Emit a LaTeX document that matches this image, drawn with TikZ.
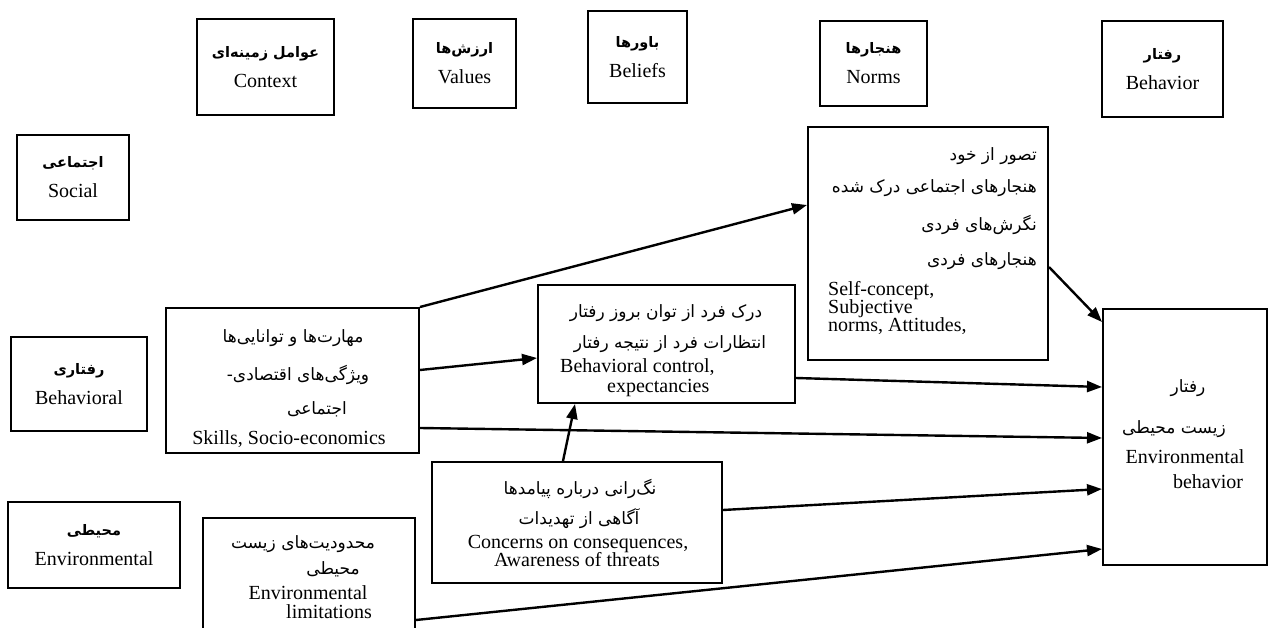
\documentclass[tikz,border=0pt]{standalone}
\usepackage{fontspec}
\setmainfont{Liberation Serif}
\newfontfamily\fa[Script=Arabic]{DejaVu Sans}
\usetikzlibrary{positioning,arrows.meta}
\TeXXeTstate=1
\newcommand{\fahead}[1]{{\fa\bfseries\fontsize{14.5}{30}\selectfont\beginR #1\endR}}
\newcommand{\fatext}[1]{{\fa\fontsize{17}{20}\selectfont\beginR #1\endR}}

\begin{document}
\begin{tikzpicture}[x=1pt,y=-1pt,
  box/.style={draw, line width=2pt, inner sep=0pt},
  head/.style={align=center, font=\fontsize{20}{30}\selectfont},
  txt/.style={inner sep=0pt, font=\fontsize{20}{20}\selectfont},
  link/.style={line width=2.4pt, -{Triangle[length=15pt,width=11pt]}}]
\useasboundingbox (0,0) rectangle (1270,628);
\clip (0,0) rectangle (1270,628);
% top row
\node[box, head, minimum width=137, minimum height=96] (context) at (265.5,67) {\fahead{عوامل زمینه^^^^200cای}\\Context};
\node[box, head, minimum width=103, minimum height=89] (values) at (464.5,63.5) {\fahead{ارزش^^^^200cها}\\Values};
\node[box, head, minimum width=99, minimum height=92] (beliefs) at (637.5,57) {\fahead{باورها}\\Beliefs};
\node[box, head, minimum width=107, minimum height=85] (norms) at (873.5,63.5) {\fahead{هنجارها}\\Norms};
\node[box, head, minimum width=121, minimum height=96] (behavior) at (1162.5,69) {\fahead{رفتار}\\Behavior};
% left column
\node[box, head, minimum width=112, minimum height=85] (social) at (73,177.5) {\fahead{اجتماعی}\\Social};
\node[box, head, minimum width=136, minimum height=94] (behavioral) at (79,384) {\fahead{رفتاری}\\Behavioral};
\node[box, head, minimum width=172, minimum height=86] (environmental) at (94,545) {\fahead{محیطی}\\Environmental};
% factor boxes
\node[box, minimum width=253, minimum height=145] (skills) at (292.5,380.5) {};
\node[box, minimum width=257, minimum height=118] (control) at (666.5,344) {};
\node[box, minimum width=240, minimum height=233] (selfbox) at (928,243.5) {};
\node[box, minimum width=290, minimum height=121] (concerns) at (577,522.5) {};
\node[box, minimum width=212, minimum height=142] (limits) at (309,589) {};
\node[box, minimum width=164, minimum height=256] (envbeh) at (1185,437) {};
% texts
\node[txt, anchor=base] (skillsA) at (293,343) {\fatext{مهارت^^^^200cها و توانایی^^^^200cها}};
\node[txt, anchor=base] (skillsB) at (298,381) {\fatext{ویژگی^^^^200cهای اقتصادی-}};
\node[txt, anchor=base] (skillsC) at (317,414) {\fatext{اجتماعی}};
\node[txt, anchor=base] (skillsD) at (289,445) {Skills, Socio-economics};
\node[txt, anchor=base] (controlA) at (666,318) {\fatext{درک فرد از توان بروز رفتار}};
\node[txt, anchor=base] (controlB) at (670,349) {\fatext{انتظارات فرد از نتیجه رفتار}};
\node[txt, anchor=base west] (controlC) at (560,373) {Behavioral control,};
\node[txt, anchor=base west] (controlD) at (607,392) {expectancies};
\node[txt, anchor=base east] (selfA) at (1037,161) {\fatext{تصور از خود}};
\node[txt, anchor=base east] (selfB) at (1037,193) {\fatext{هنجارهای اجتماعی درک شده}};
\node[txt, anchor=base east] (selfC) at (1037,231) {\fatext{نگرش^^^^200cهای فردی}};
\node[txt, anchor=base east] (selfD) at (1037,266) {\fatext{هنجارهای فردی}};
\node[txt, anchor=base west] (selfE) at (828,296) {Self-concept,};
\node[txt, anchor=base west] (selfF) at (828,314) {Subjective};
\node[txt, anchor=base west] (selfG) at (828,332) {norms, Attitudes,};
\node[txt, anchor=base] (concernsA) at (580,494) {\fatext{نگ^^^^200cرانی درباره پیامدها}};
\node[txt, anchor=base] (concernsB) at (579,524) {\fatext{آگاهی از تهدیدات}};
\node[txt, anchor=base] (concernsC) at (578,548) {Concerns on consequences,};
\node[txt, anchor=base] (concernsD) at (577,566) {Awareness of threats};
\node[txt, anchor=base] (limitsA) at (303,548) {\fatext{محدودیت^^^^200cهای زیست}};
\node[txt, anchor=base] (limitsB) at (333,574) {\fatext{محیطی}};
\node[txt, anchor=base] (limitsC) at (308,599) {Environmental};
\node[txt, anchor=base] (limitsD) at (329,618) {limitations};
\node[txt, anchor=base] (envbehA) at (1188,393) {\fatext{رفتار}};
\node[txt, anchor=base] (envbehB) at (1174,433) {\fatext{زیست محیطی}};
\node[txt, anchor=base] (envbehC) at (1185,463) {Environmental};
\node[txt, anchor=base] (envbehD) at (1208,488) {behavior};
% arrows
\draw[link] (skills.north east) -- ([yshift=38.5pt]selfbox.west);
\draw[link] ([yshift=10.5pt]skills.east) -- ([yshift=-14pt]control.west);
\draw[link] ([yshift=-47.5pt]skills.east) -- ([yshift=-1pt]envbeh.west);
\draw[link] ([yshift=-34pt]control.east) -- ([yshift=50pt]envbeh.west);
\draw[link] ([yshift=-23.5pt]selfbox.east) -- ([yshift=115pt]envbeh.west);
\draw[link] ([xshift=-14pt]concerns.north) -- ([xshift=-91.5pt]control.south);
\draw[link] ([yshift=12.5pt]concerns.east) -- ([yshift=-52pt]envbeh.west);
\draw[link] ([yshift=-31pt]limits.east) -- ([yshift=-112pt]envbeh.west);
\end{tikzpicture}
\end{document}
